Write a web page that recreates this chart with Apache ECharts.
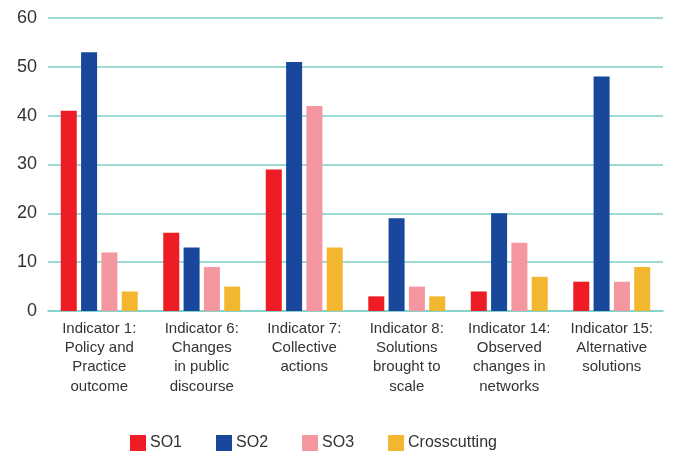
<!DOCTYPE html>
<html>
<head>
<meta charset="utf-8">
<script src="https://cdn.jsdelivr.net/npm/echarts@6/dist/echarts.min.js"></script>
<style>
html,body{margin:0;padding:0;background:#fff;}
#chart{width:677px;height:453px;}
</style>
</head>
<body>
<div id="chart"></div>
<script>
var categories=["Indicator 1:\nPolicy and\nPractice\noutcome","Indicator 6:\nChanges\nin public\ndiscourse","Indicator 7:\nCollective\nactions","Indicator 8:\nSolutions\nbrought to\nscale","Indicator 14:\nObserved\nchanges in\nnetworks","Indicator 15:\nAlternative\nsolutions"];
var so1=[41,16,29,3,4,6];
var so2=[53,13,51,19,20,48];
var so3=[12,9,42,5,14,6];
var crosscutting=[4,5,13,3,7,9];
var yTicks=[0,10,20,30,40,50,60];

var FONT="'Liberation Sans', Arial, sans-serif";
var chart=echarts.init(document.getElementById("chart"));

function bar(name,data,color){
    return {
        name:name,
        type:"bar",
        data:data,
        barWidth:16,
        barGap:"27%",
        itemStyle:{color:color},
        emphasis:{disabled:true}
    };
}

chart.setOption({
    animation:false,
    textStyle:{fontFamily:FONT},
    grid:{left:48,right:14,top:18,bottom:142},
    legend:{
        left:125,
        top:430,
        itemWidth:16,
        itemHeight:16,
        itemGap:34,
        icon:"rect",
        textStyle:{color:"#333",fontSize:16,fontFamily:FONT,padding:[2,0,0,-1]},
        data:["SO1","SO2","SO3","Crosscutting"]
    },
    xAxis:{
        type:"category",
        data:categories,
        axisLine:{lineStyle:{color:"#7ecfc6",width:1.5}},
        axisTick:{show:false},
        axisLabel:{color:"#333",fontSize:15,lineHeight:19.3,margin:8,interval:0,fontFamily:FONT}
    },
    yAxis:{
        type:"value",
        min:yTicks[0],
        max:yTicks[yTicks.length-1],
        interval:10,
        axisLine:{show:false},
        axisTick:{show:false},
        axisLabel:{color:"#333",fontSize:18,margin:11,fontFamily:FONT},
        splitLine:{lineStyle:{color:"#7ecfc6",width:1.5}}
    },
    series:[
        bar("SO1",so1,"#ee1c25"),
        bar("SO2",so2,"#18479b"),
        bar("SO3",so3,"#f497a1"),
        bar("Crosscutting",crosscutting,"#f2b72f")
    ]
});
</script>
</body>
</html>
